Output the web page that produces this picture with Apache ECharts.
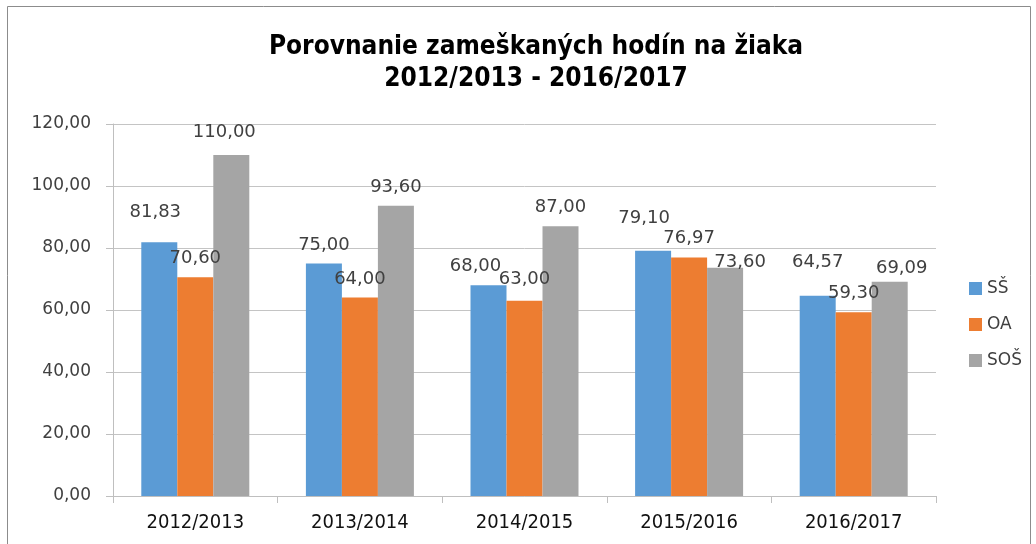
<!DOCTYPE html>
<html>
<head>
<meta charset="utf-8">
<script src="https://cdn.jsdelivr.net/npm/echarts@6/dist/echarts.min.js"></script>
<style>
  html, body { margin: 0; padding: 0; background: #fff; }
  #chart { width: 1036px; height: 544px; }
</style>
</head>
<body>
<div id="chart"></div>
<script>
// data
const years = ['2012/2013', '2013/2014', '2014/2015', '2015/2016', '2016/2017']
const ssValues = [81.83, 75.00, 68.00, 79.10, 64.57]
const oaValues = [70.60, 64.00, 63.00, 76.97, 59.30]
const sosValues = [110.00, 93.60, 87.00, 73.60, 69.09]
const seriesNames = ['SŠ', 'OA', 'SOŠ']
const colors = ['#5B9BD5', '#ED7D31', '#A5A5A5']

// hand-placed label nudges in the original (px, [dx, dy])
const ssLabelShift = [[-4, -11], [0, 1], [-13, 0], [-9, -13], [0, -15]]
const oaLabelShift = [[0, 0], [0, 1], [0, -2], [0, 0], [0, 0]]
const sosLabelShift = [[-7, -4], [0, 0], [0, 0], [15, 13], [12, 6]]

const narrow = "'Liberation Sans Narrow', 'DejaVu Sans Condensed', sans-serif"
const wide = "'DejaVu Sans', Verdana, sans-serif"

const fmt = v => v.toFixed(2).replace('.', ',')

const chart = echarts.init(document.getElementById('chart'))

const makeSeries = (name, data, color, shifts) => ({
  name: name,
  type: 'bar',
  data: data.map((v, i) => ({
    value: v,
    label: { offset: shifts[i] }
  })),
  barWidth: 36,
  barGap: '0%',
  itemStyle: { color: color },
  label: {
    show: true,
    position: 'top',
    distance: 10,
    color: '#404040',
    fontFamily: wide,
    fontSize: 18,
    formatter: p => fmt(p.value)
  }
})

const option = {
  animation: false,
  backgroundColor: '#fff',
  title: {
    text: 'Porovnanie zameškaných hodín na žiaka\n2012/2013 - 2016/2017',
    left: 531,
    textAlign: 'center',
    top: 26,
    textStyle: {
      fontFamily: narrow,
      fontWeight: 'bold',
      fontSize: 26,
      lineHeight: 32,
      color: '#000'
    }
  },
  legend: {
    orient: 'vertical',
    left: 964,
    top: 275,
    itemWidth: 13,
    itemHeight: 13,
    itemGap: 19,
    icon: 'rect',
    textStyle: { fontFamily: wide, fontSize: 17, color: '#404040' },
    data: seriesNames
  },
  grid: { left: 113, right: 100, top: 124, bottom: 48 },
  xAxis: {
    type: 'category',
    data: years,
    axisLine: { lineStyle: { color: '#bfbfbf' } },
    axisTick: { show: true, length: 7, lineStyle: { color: '#bfbfbf' } },
    axisLabel: { fontFamily: narrow, fontSize: 20, color: '#111', margin: 17 }
  },
  yAxis: {
    type: 'value',
    min: 0,
    max: 120,
    interval: 20,
    axisLine: { show: true, lineStyle: { color: '#bfbfbf' } },
    axisTick: { show: true, length: 7, lineStyle: { color: '#bfbfbf' } },
    splitLine: { lineStyle: { color: '#c4c4c4' } },
    axisLabel: {
      fontFamily: wide,
      fontSize: 17,
      color: '#404040',
      margin: 22,
      formatter: v => fmt(v)
    }
  },
  graphic: [{
    type: 'rect',
    shape: { x: 7.5, y: 6.5, width: 1023, height: 560 },
    style: { fill: null, stroke: '#8c8c8c', lineWidth: 1 },
    silent: true
  }],
  series: [
    makeSeries(seriesNames[0], ssValues, colors[0], ssLabelShift),
    makeSeries(seriesNames[1], oaValues, colors[1], oaLabelShift),
    makeSeries(seriesNames[2], sosValues, colors[2], sosLabelShift)
  ]
}

chart.setOption(option)
</script>
</body>
</html>
